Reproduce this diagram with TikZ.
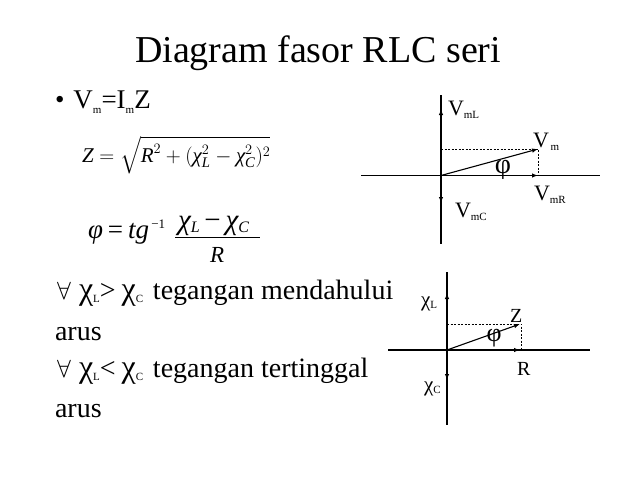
\documentclass[tikz,border=0pt]{standalone}
\usepackage{fontspec}
\usepackage{amsmath}
\setmainfont{Liberation Serif}
\usetikzlibrary{arrows.meta}
\newcommand{\tx}[1]{\text{\itshape #1}}
\newcommand{\sbs}[2][-6pt]{\raisebox{#1}{\fontsize{11}{11}\selectfont #2}}
\newcommand{\bchi}{{\fontsize{32}{32}\selectfont χ}}
\begin{document}
\begin{tikzpicture}[x=1pt,y=-1pt,
  txt/.style={anchor=base west,inner sep=0pt,outer sep=0pt},
  axis/.style={line width=1.1pt},
  vec/.style={line width=1.1pt,-{Latex[length=6pt,width=4.5pt]}},
  proj/.style={line width=0.6pt,dash pattern=on 2pt off 1.5pt}]
\useasboundingbox[fill=white] (0,0) rectangle (638,479);

% ---- title and text ----
\node[txt,font=\fontsize{38}{44}\selectfont] (title) at (135,62) {Diagram fasor RLC seri};
\node[txt,font=\fontsize{27}{32}\selectfont] (vm) at (55,108) {•\hspace{9pt}V\sbs[-5pt]{m}=I\sbs[-5pt]{m}Z};
\node[txt,font=\fontsize{21}{24}\selectfont] (zf) at (82,162)
  {$\tx{Z} = \sqrt{\tx{R}^{2} + (\tx{χ}_{\tx{L}}^{2} - \tx{χ}_{\tx{C}}^{2})^{2}}$};
% phi = tg^-1 (chiL - chiC)/R
\node[txt,font=\fontsize{27}{30}\selectfont] (phil) at (88,238)
  {\itshape φ\upshape\hspace{5pt}=\hspace{5pt}\itshape tg\upshape\raisebox{10pt}{\fontsize{13}{13}\selectfont\,−1}};
\node[txt,font=\fontsize{29}{32}\selectfont] (num) at (178,229)
  {\itshape χ\raisebox{-3pt}{\fontsize{16}{16}\selectfont L}\,\upshape−\,\itshape χ\raisebox{-3pt}{\fontsize{16}{16}\selectfont C}};
\node[txt,font=\fontsize{23}{26}\selectfont\itshape] (den) at (210,262) {R};
\coordinate (barL) at (175,237.5);
\coordinate (barR) at (260,237.5);
\draw[line width=1pt] (barL) -- (barR);

\node[txt,font=\fontsize{28}{32}\selectfont] (l1) at (57,299)
  {\makebox[96pt][l]{\makebox[22pt][l]{$\forall$}\bchi\sbs[-3pt]{L}>\hspace{6pt}\bchi\sbs[-3pt]{C}}tegangan mendahului};
\node[txt,font=\fontsize{28}{32}\selectfont] (l2) at (55,340) {arus};
\node[txt,font=\fontsize{28}{32}\selectfont] (l3) at (57,377)
  {\makebox[96pt][l]{\makebox[22pt][l]{$\forall$}\bchi\sbs[-3pt]{L}<\hspace{6pt}\bchi\sbs[-3pt]{C}}tegangan tertinggal};
\node[txt,font=\fontsize{28}{32}\selectfont] (l4) at (55,417) {arus};

% ---- top phasor diagram ----
\coordinate (O1) at (441,175.5);
\coordinate (T1) at (441,95);
\coordinate (B1) at (441,244);
\coordinate (W1) at (361,175.5);
\coordinate (E1) at (600,175.5);
\coordinate (L1) at (441,109);
\coordinate (C1) at (441,203);
\coordinate (M1) at (538,149);
\coordinate (R1) at (538,175.5);
\coordinate (Y1) at (441,149);
\draw[axis] (T1) -- (B1);
\draw[axis] (W1) -- (E1);
\draw[vec] (O1) -- (L1);
\draw[vec] (O1) -- (C1);
\draw[vec] (O1) -- (R1);
\draw[vec] (O1) -- (M1);
\draw[proj] (Y1) -- (M1) -- (R1);
\node[txt,font=\fontsize{22}{24}\selectfont] (vmL) at (448,115) {V\sbs[-3pt]{mL}};
\node[txt,font=\fontsize{22}{24}\selectfont] (vmm) at (533,147) {V\sbs[-3pt]{\,m}};
\node[txt,font=\fontsize{22}{24}\selectfont] (vmR) at (534,200) {V\sbs[-3pt]{mR}};
\node[txt,font=\fontsize{22}{24}\selectfont] (vmC) at (455,217) {V\sbs[-3pt]{mC}};
\node[font=\fontsize{28}{30}\selectfont,inner sep=0pt] (phi1) at (503,170) {φ};

% ---- bottom impedance diagram ----
\coordinate (O2) at (447,350);
\coordinate (T2) at (447,272);
\coordinate (B2) at (447,425);
\coordinate (W2) at (388,350);
\coordinate (E2) at (590,350);
\coordinate (L2) at (447,293);
\coordinate (C2) at (447,380);
\coordinate (Z2) at (520,324);
\coordinate (R2) at (520,350);
\coordinate (Y2) at (447,324);
\coordinate (Q2) at (521.5,324);
\coordinate (S2) at (521.5,350);
\draw[axis] (T2) -- (B2);
\draw[axis] (W2) -- (E2);
\draw[vec] (O2) -- (L2);
\draw[vec] (O2) -- (C2);
\draw[vec] (O2) -- (R2);
\draw[vec] (O2) -- (Z2);
\draw[proj] (Y2) -- (Q2) -- (S2);
\node[txt,font=\fontsize{21}{24}\selectfont] (xL) at (421,306) {χ\sbs[-2pt]{L}};
\node[txt,font=\fontsize{21}{24}\selectfont] (xC) at (424,391) {χ\sbs[-2pt]{C}};
\node[txt,font=\fontsize{20}{24}\selectfont] (zl) at (510,322) {Z};
\node[txt,font=\fontsize{20}{24}\selectfont] (rl) at (517,375) {R};
\node[font=\fontsize{26}{28}\selectfont,inner sep=0pt] (phi2) at (494,338) {φ};
\end{tikzpicture}
\end{document}
